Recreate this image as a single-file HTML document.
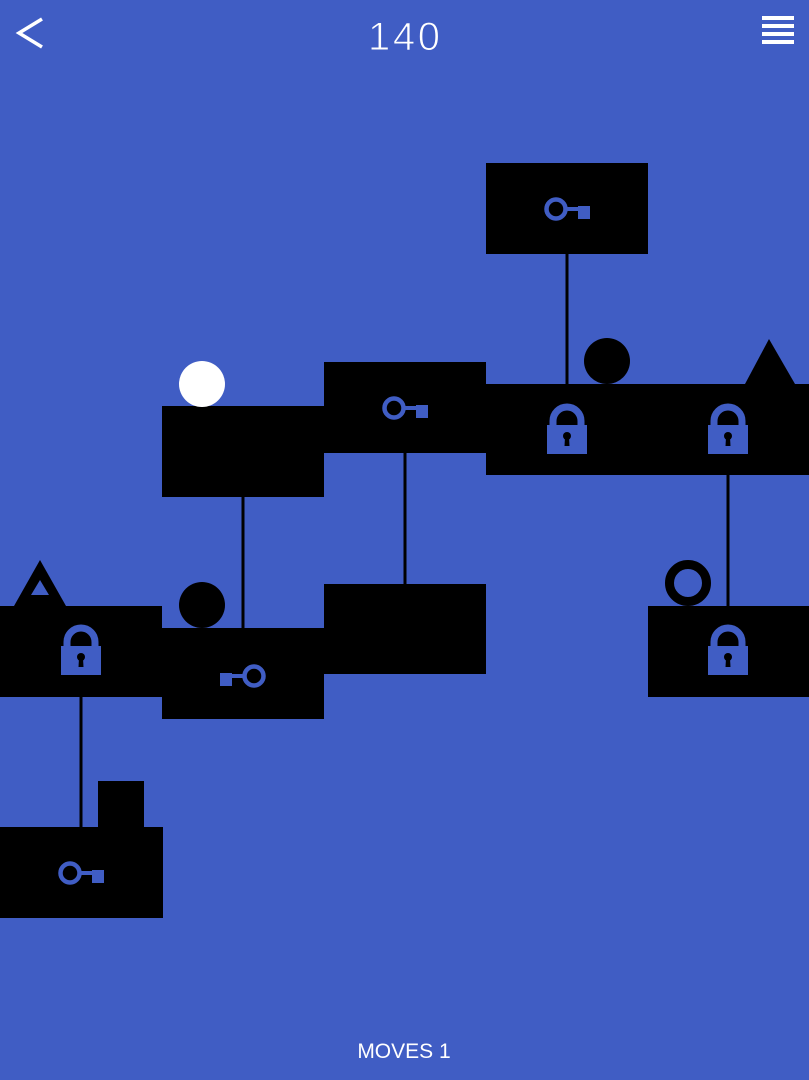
<!DOCTYPE html>
<html><head><meta charset="utf-8"><style>
html,body{margin:0;padding:0;background:#405DC4;}
svg{display:block}
</style></head><body>
<svg width="809" height="1080" viewBox="0 0 809 1080" xmlns="http://www.w3.org/2000/svg">
<defs>
<g id="key">
<circle cx="-11" cy="0" r="9.5" fill="none" stroke="#405DC4" stroke-width="4.5"/>
<rect x="-2" y="-2" width="14" height="4" fill="#405DC4"/>
<rect x="11" y="-3" width="12" height="13" fill="#405DC4"/>
</g>
<g id="lock">
<path d="M-14,-7 V-11 A14,14 0 0 1 14,-11 V-7" fill="none" stroke="#405DC4" stroke-width="7"/>
<rect x="-20" y="-7" width="40" height="29" fill="#405DC4"/>
<circle cx="0" cy="4" r="4" fill="#000"/>
<path d="M-2,5 L2,5 L2.5,14 L-2.5,14 Z" fill="#000"/>
</g>
</defs>
<rect width="809" height="1080" fill="#405DC4"/>
<polyline points="42,19 19,33 42,47" fill="none" stroke="#fff" stroke-width="3.5"/>
<text x="404" y="50" text-anchor="middle" font-family="Liberation Sans, sans-serif" font-size="40" fill="#fff" stroke="#405DC4" stroke-width="1" textLength="72">140</text>
<g fill="#fff"><rect x="762" y="16" width="32" height="4"/><rect x="762" y="24" width="32" height="4"/><rect x="762" y="32" width="32" height="4"/><rect x="762" y="40" width="32" height="4"/></g>
<text x="404" y="1058" text-anchor="middle" font-family="Liberation Sans, sans-serif" font-size="21" fill="#fff">MOVES 1</text>
<g stroke="#000" stroke-width="3">
<line x1="567" y1="254" x2="567" y2="384"/>
<line x1="405" y1="453" x2="405" y2="584"/>
<line x1="243" y1="497" x2="243" y2="628"/>
<line x1="728" y1="475" x2="728" y2="606"/>
<line x1="81" y1="697" x2="81" y2="827"/>
</g>
<g fill="#000">
<rect x="486" y="163" width="162" height="91"/>
<rect x="486" y="384" width="323" height="91"/>
<rect x="324" y="362" width="162" height="91"/>
<rect x="162" y="406" width="162" height="91"/>
<rect x="324" y="584" width="162" height="90"/>
<rect x="162" y="628" width="162" height="91"/>
<rect x="0" y="606" width="162" height="91"/>
<rect x="648" y="606" width="161" height="91"/>
<rect x="0" y="827" width="163" height="91"/>
<rect x="98" y="781" width="46" height="46"/>
<circle cx="607" cy="361" r="23"/>
<circle cx="202" cy="605" r="23"/>
<polygon points="769,339 745,384 795,384"/>
<path d="M40,560 L14,606 L66,606 Z M40,580 L31,595 L49,595 Z" fill-rule="evenodd"/>
</g>
<circle cx="202" cy="384" r="23" fill="#fff"/>
<circle cx="688" cy="583" r="18.5" fill="none" stroke="#000" stroke-width="9"/>
<use href="#key" transform="translate(567,209)"/>
<use href="#key" transform="translate(405,408)"/>
<use href="#key" transform="translate(81,873)"/>
<use href="#key" transform="translate(243,676) scale(-1,1)"/>
<use href="#lock" transform="translate(567,432)"/>
<use href="#lock" transform="translate(728,432)"/>
<use href="#lock" transform="translate(81,653)"/>
<use href="#lock" transform="translate(728,653)"/>
</svg>
</body></html>
